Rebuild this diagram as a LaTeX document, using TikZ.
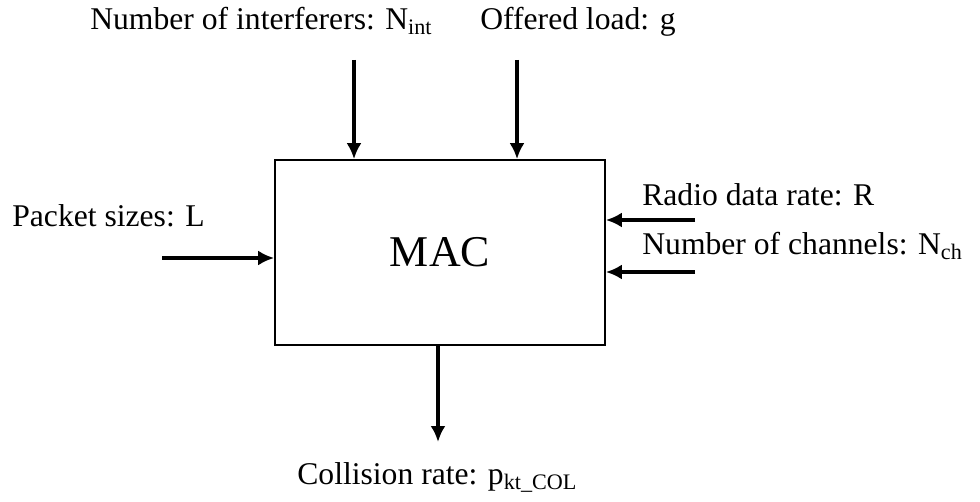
\documentclass[tikz,border=0pt]{standalone}
\usepackage{fontspec}
\setmainfont{Liberation Serif}
\usetikzlibrary{arrows.meta,positioning,calc}

\begin{document}
\begin{tikzpicture}[x=0.02cm,y=-0.02cm,
	inarrow/.style={-{Latex[length=3.2mm,width=3mm]},line width=2.2pt},
	lbl/.style={font=\fontsize{18}{21}\selectfont,inner sep=0pt,anchor=base west}]
	\useasboundingbox (0,0) rectangle (980,502);
	
	% the MAC block
	\node (mac) [draw,line width=1pt,minimum width=6.6cm,minimum height=3.7cm,
		font=\fontsize{25}{30}\selectfont] at (440,252.5) {MAC};
	
	% inputs from above
	\node (nintlbl) [lbl] at (90,30) {Number of interferers: N\textsubscript{int}};
	\node (gldlbl) [lbl] at (480,30) {Offered load: g};
	\coordinate (nint) at (354,60);
	\coordinate (gld) at (517,60);
	\draw[inarrow] (nint) -- (nint |- mac.north);
	\draw[inarrow] (gld) -- (gld |- mac.north);
	
	% input from the left
	\node (pktlbl) [lbl] at (12,227) {Packet sizes: L};
	\coordinate (pkt) at (162,258);
	\draw[inarrow] (pkt) -- (pkt -| mac.west);
	
	% inputs from the right
	\node (ratelbl) [lbl] at (642,206) {Radio data rate: R};
	\node (chlbl) [lbl] at (642,255) {Number of channels: N\textsubscript{ch}};
	\coordinate (rate) at (695,220);
	\coordinate (ch) at (695,272);
	\draw[inarrow] (rate) -- (rate -| mac.east);
	\draw[inarrow] (ch) -- (ch -| mac.east);
	
	% output
	\coordinate (col) at (438,442);
	\draw[inarrow] (col |- mac.south) -- (col);
	\node (collbl) [lbl] at (297,485) {Collision rate: p\textsubscript{kt\_COL}};
\end{tikzpicture}
\end{document}
